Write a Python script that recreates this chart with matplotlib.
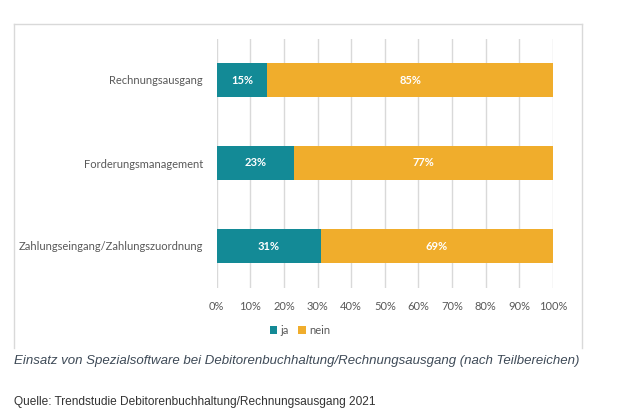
import matplotlib
matplotlib.use("Agg")
import matplotlib.pyplot as plt
from matplotlib.lines import Line2D

categories = ["Rechnungsausgang", "Forderungsmanagement", "Zahlungseingang/Zahlungszuordnung"]
ja = [15, 23, 31]
nein = [85, 77, 69]
tick_values = [0, 10, 20, 30, 40, 50, 60, 70, 80, 90, 100]
tick_labels = [f"{v}%" for v in tick_values]
series_names = ["ja", "nein"]
caption = "Einsatz von Spezialsoftware bei Debitorenbuchhaltung/Rechnungsausgang (nach Teilbereichen)"
source = "Quelle: Trendstudie Debitorenbuchhaltung/Rechnungsausgang 2021"

TEAL = "#138A96"
ORANGE = "#F0AD2C"
GRID = "#D9D9D9"
TXT = "#595959"

W, H = 622, 417
fig = plt.figure(figsize=(W / 100, H / 100), dpi=100)

def fx(px):
    return px / W

def fy(py):
    return 1 - py / H

# outer frame (open at bottom)
for xs, ys in [([14, 14], [24, 348]), ([582, 582], [24, 348]), ([14, 582], [24, 24])]:
    fig.add_artist(Line2D([fx(x) for x in xs], [fy(y) for y in ys], color=GRID, lw=1.0))

left, right, top, bottom = 216.7, 553, 38.5, 287.5
ax = fig.add_axes([fx(left), fy(bottom), fx(right) - fx(left), fy(top) - fy(bottom)])

y = list(range(len(categories)))
h = 0.41
b1 = ax.barh(y, ja, height=h, color=TEAL, zorder=3, label=series_names[0])
b2 = ax.barh(y, nein, left=ja, height=h, color=ORANGE, zorder=3, label=series_names[1])

for bars, vals, lefts in [(b1, ja, [0] * 3), (b2, nein, ja)]:
    for yi, v, l in zip(y, vals, lefts):
        ax.text(l + v / 2, yi, f"{v}%", ha="center", va="center", color="white",
                fontsize=8, fontweight="bold", family="Lato", zorder=4)

ax.set_xlim(0, 100)
ax.set_ylim(len(categories) - 0.5, -0.5)
ax.set_xticks(tick_values)
ax.set_xticklabels(tick_labels, fontsize=8, color=TXT, family="Lato")
ax.set_yticks(y)
ax.set_yticklabels(categories, fontsize=8, color=TXT, family="Lato")
ax.tick_params(axis="y", length=0, pad=10)
ax.tick_params(axis="x", length=0, pad=10)
ax.xaxis.grid(True, color=GRID, lw=1.0, zorder=0)
ax.set_axisbelow(True)
for s in ax.spines.values():
    s.set_visible(False)

leg = fig.legend(handles=[b1, b2], labels=series_names, loc="center",
                 bbox_to_anchor=(fx(300), fy(330)), ncol=2, frameon=False,
                 prop={"family": "Lato", "size": 8}, handlelength=0.7,
                 handleheight=0.7, handletextpad=0.3, columnspacing=0.8)
for t in leg.get_texts():
    t.set_color(TXT)

fig.text(fx(14), fy(361), caption, fontsize=9.55, style="italic", color="#3E4A57",
         family="Liberation Sans", ha="left", va="center")
fig.text(fx(14), fy(402), source, fontsize=8.6, color="#333333",
         family="Liberation Sans", ha="left", va="center")

fig.savefig("out.png", dpi=100)
